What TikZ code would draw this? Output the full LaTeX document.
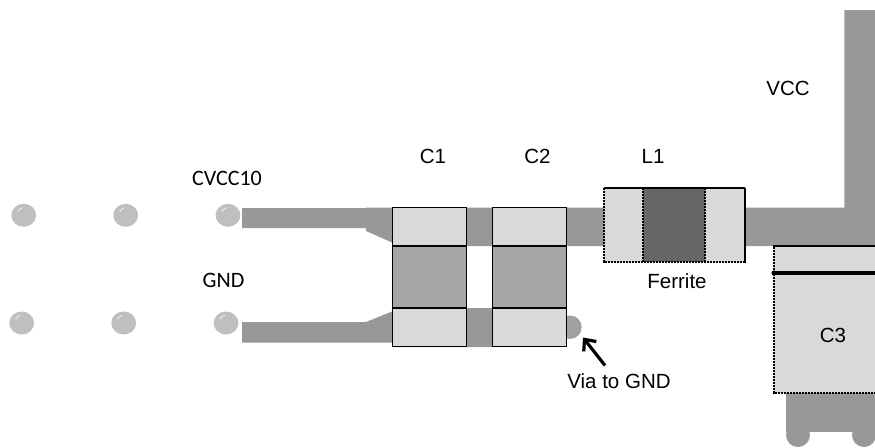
\documentclass[tikz,border=0pt]{standalone}
\usepackage{fontspec}
\setmainfont{Liberation Sans}
\newfontfamily\calfont{Carlito}
\definecolor{trace}{HTML}{989898}
\definecolor{pad}{HTML}{D9D9D9}
\definecolor{body}{HTML}{A6A6A6}
\definecolor{ferrite}{HTML}{666666}
\definecolor{viagrey}{HTML}{BFBFBF}
\definecolor{hole}{HTML}{A0A0A0}
\usetikzlibrary{arrows.meta}
\tikzset{
  x=1pt,y=-1pt,
  lab/.style={font=\fontsize{20.5}{24}\selectfont,inner sep=0pt,anchor=center},
  callab/.style={font=\calfont\fontsize{22}{26}\selectfont,inner sep=0pt,anchor=center},
  tr/.style={fill=trace,draw=none},
  solidpart/.style={draw=black,line width=1.15pt},
  dotpart/.style={draw=black,line width=1.7pt,dash pattern=on 1.2pt off .3pt},
  shine/.style={draw=white,line width=.8pt,line cap=round,opacity=.8},
}
\newcommand{\myvia}[2]{%
  \fill[viagrey] (#1,#2) ellipse [x radius=12.4pt,y radius=11.5pt];
  \draw[shine] (#1-6,#2-4) .. controls (#1-4.5,#2-6) and (#1-3,#2-7) .. (#1-1.5,#2-7.5);
}
\begin{document}
\begin{tikzpicture}
\useasboundingbox (0,0) rectangle (875,447);
\fill[white] (0,0) rectangle (875,447);
% vias
\myvia{23.7}{215.3}\myvia{125.7}{215.3}\myvia{228}{215.3}
\myvia{21.7}{323}\myvia{123.7}{323}\myvia{226}{323}
% traces
\fill[tr] (242,208) -- (366,208) -- (366,207.5) -- (604,207.5) -- (604,246) -- (392,246) -- (392,242.5) -- (366,231) -- (366,228) -- (242,228) -- cycle;
\fill[tr] (242,322) -- (366,322) -- (392,311.5) -- (392,308) -- (493,308) -- (493,347) -- (392,347) -- (392,342.7) -- (242,342.7) -- cycle;
\fill[tr] (744,207.5) -- (844.3,207.5) -- (844.3,10) -- (875,10) -- (875,246) -- (744,246) -- cycle;
\fill[hole] (570,327.2) circle [radius=11.7pt];
% C3 legs
\fill[tr] (786,392) -- (875,392) -- (875,432) -- (786,432) -- cycle;
\fill[tr] (798,435) circle [radius=12pt];
\fill[tr] (864,435) circle [radius=12pt];
% C1, C2
\foreach \xa/\xb in {392.7/466.3,492.7/566.7}{
  \fill[pad] (\xa,207.5) rectangle (\xb,246);
  \fill[body] (\xa,246) rectangle (\xb,308);
  \fill[pad] (\xa,308) rectangle (\xb,346.7);
  \draw[solidpart] (\xa,207.5) rectangle (\xb,346.7);
  \draw[solidpart] (\xa,246) -- (\xb,246);
  \draw[solidpart] (\xa,308) -- (\xb,308);
}
% L1
\fill[pad] (604,187.7) rectangle (744.7,262);
\fill[ferrite] (643.3,187.7) rectangle (705.3,262);
\draw[dotpart] (604,187.7) rectangle (744.7,262);
\draw[dotpart] (643.3,187.7) -- (643.3,262);
\draw[dotpart] (705.3,187.7) -- (705.3,262);
% C3
\fill[pad] (774,246) rectangle (876,393);
\draw[dotpart] (877,246) -- (774,246) -- (774,393) -- (877,393);
\fill[black] (774,273) circle [radius=2.6pt];
\draw[black,line width=4.2pt] (774,273) -- (875,273);
% labels
\node[lab] (c1) at (433,156.5) {C1};
\node[lab] (c2) at (537.5,156.5) {C2};
\node[lab] (l1) at (653,156.5) {L1};
\node[lab] (vcc) at (788,88) {VCC};
\node[lab] (fer) at (677,281.5) {Ferrite};
\node[lab] (c3) at (833,335) {C3};
\node[lab] (via) at (619,381) {Via to GND};
\node[callab] (cv) at (227,178.5) {CVCC10};
\node[callab] (gn) at (223.5,280.5) {GND};
% arrow
\coordinate (vt) at (605,365.5);
\coordinate (vh) at (583,337.5);
\draw[black,line width=3.2pt,-{Straight Barb[length=9pt,width=16pt,line width=3.2pt]}] (vt) -- (vh);
\end{tikzpicture}
\end{document}
